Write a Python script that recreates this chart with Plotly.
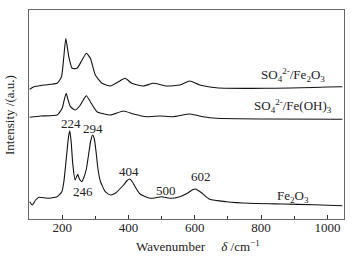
import plotly.graph_objects as go

# Fe2O3 (bottom)
x_fe2o3 = [102, 110, 120, 130, 155, 185, 199, 205, 210, 215, 219, 223, 227, 232, 239, 247, 252, 259, 266, 273, 280, 286, 292, 297, 302, 308, 315, 330, 345, 360, 385, 396, 404, 412, 420, 435, 465, 500, 525, 555, 580, 592, 602, 610, 620, 645, 695, 765, 865, 960, 1045]
y_fe2o3 = [17.3, 14.0, 19.0, 21.7, 20.7, 22.3, 27.3, 37.0, 52.0, 69.0, 82.0, 88.3, 78.0, 55.0, 39.0, 44.7, 40.0, 37.3, 42.0, 50.0, 65.0, 78.0, 84.0, 80.0, 68.0, 50.0, 38.0, 27.3, 24.0, 25.7, 34.0, 38.5, 40.0, 37.0, 32.3, 25.0, 20.7, 22.3, 20.7, 22.3, 26.3, 29.0, 30.0, 28.5, 26.3, 19.7, 17.3, 15.7, 15.0, 14.3, 13.3]

# SO4 2-/Fe(OH)3 (middle)
x_feoh3 = [102, 135, 185, 200, 205, 212, 218, 225, 240, 255, 265, 273, 285, 305, 345, 385, 415, 455, 495, 535, 585, 625, 665, 815, 1045]
y_feoh3 = [101.7, 103.0, 104.0, 110.7, 117.3, 125.7, 119.0, 112.3, 109.0, 114.0, 119.7, 123.3, 117.3, 107.3, 104.0, 108.0, 105.0, 102.3, 103.0, 102.3, 105.0, 102.3, 100.7, 100.0, 99.7]

# SO4 2-/Fe2O3 (top)
x_so4fe2o3 = [102, 115, 145, 185, 198, 205, 211, 220, 230, 245, 260, 273, 285, 300, 320, 345, 375, 390, 410, 445, 475, 515, 555, 585, 615, 665, 815, 1045]
y_so4fe2o3 = [129.7, 132.3, 134.0, 135.7, 142.3, 162.3, 180.7, 162.3, 150.7, 150.7, 159.0, 165.7, 160.7, 144.0, 135.7, 133.0, 138.3, 140.7, 135.7, 133.0, 135.7, 133.0, 134.0, 138.0, 134.0, 131.3, 130.7, 132.3]

series_names = ["Fe2O3", "SO4/Fe(OH)3", "SO4/Fe2O3"]

peak_labels = ["224", "294", "246", "404", "500", "602"]
peak_x = [226, 292, 264, 403, 513, 618]
peak_y = [95.7, 90.7, 27.3, 47.3, 29.0, 42.3]

curve_labels = ["SO<sub>4</sub><sup>2-</sup>/Fe<sub>2</sub>O<sub>3</sub>",
                "SO<sub>4</sub><sup>2-</sup>/Fe(OH)<sub>3</sub>",
                "Fe<sub>2</sub>O<sub>3</sub>"]
curve_label_x = [897, 897, 897]
curve_label_y = [144, 113, 23]

x_ticks = [200, 400, 600, 800, 1000]
x_minor = [300, 500, 700, 900]

FONT = "Liberation Serif"
font = dict(family=FONT, size=13, color="#222222")

fig = go.Figure()
for xs, ys, nm in zip([x_fe2o3, x_feoh3, x_so4fe2o3], [y_fe2o3, y_feoh3, y_so4fe2o3], series_names):
    fig.add_trace(go.Scatter(x=xs, y=ys, mode="lines", name=nm,
                             line=dict(color="#111111", width=1.1, shape="spline", smoothing=0.5),
                             showlegend=False))

for t, x, y in zip(peak_labels, peak_x, peak_y):
    fig.add_annotation(x=x, y=y, text=t, showarrow=False, font=font)
for t, x, y in zip(curve_labels, curve_label_x, curve_label_y):
    fig.add_annotation(x=x, y=y, text=t, showarrow=False, font=font)

# axis titles as paper annotations
fig.add_annotation(xref="paper", yref="paper", x=0.535, y=-0.13, yanchor="middle",
                   text="Wavenumber     <i>δ</i> /cm<sup>−1</sup>", showarrow=False, font=font)
fig.add_annotation(xref="paper", yref="paper", x=-0.062, y=0.5, xanchor="center",
                   text="Intensity /(a.u.)", textangle=-90, showarrow=False, font=font)

# small leader mark near 246
fig.add_shape(type="line", x0=245, x1=250, y0=23, y1=23, line=dict(color="#222222", width=1))

fig.update_layout(
    width=354, height=264,
    margin=dict(l=29, r=10, t=10, b=45, autoexpand=False),
    paper_bgcolor="white", plot_bgcolor="white",
    font=font,
    xaxis=dict(range=[100, 1050], tickvals=x_ticks, automargin=False,
               ticks="inside", ticklen=4, tickcolor="#333333",
               ticklabelstandoff=-4,
               minor=dict(tickvals=x_minor, ticks="inside", ticklen=3, tickcolor="#333333"),
               showline=True, linecolor="#666666", linewidth=1, mirror=True,
               showgrid=False, zeroline=False,
               tickfont=font),
    yaxis=dict(range=[0, 209], showticklabels=False, ticks="", automargin=False,
               showline=True, linecolor="#666666", linewidth=1, mirror=True,
               showgrid=False, zeroline=False),
)

fig.write_html("out.html", post_script="document.body.style.margin='0';",
               config={"displayModeBar": False})
